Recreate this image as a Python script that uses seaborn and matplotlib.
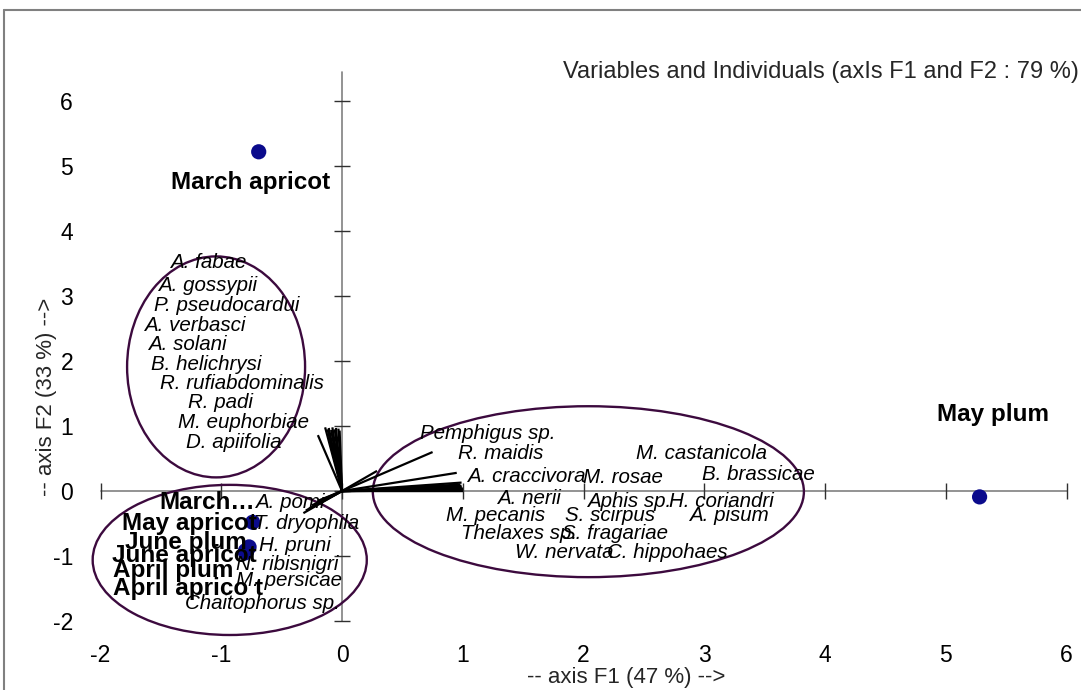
import matplotlib
matplotlib.use("Agg")
import matplotlib.pyplot as plt
from matplotlib.patches import Ellipse
from matplotlib.lines import Line2D
import pandas as pd
import seaborn as sns

sns.set_style("white")
plt.rcParams["font.family"] = ["Liberation Sans", "DejaVu Sans"]
plt.rcParams["axes.unicode_minus"] = False

# ---------------------------------------------------------------- data
# Observations (sampling month x host plant), factor scores on F1 / F2
obs_names = ["March apricot", "May plum", "March\u2026", "May apricot",
             "June plum", "June apricot", "April plum", "April aprico t"]
obs_f1 = [-0.69, 5.28, -0.79, -0.74, -0.77, -0.80, -0.79, -0.80]
obs_f2 = [5.22, -0.09, -0.92, -0.48, -0.86, -0.95, -0.93, -0.92]

# Aphid species (variables), loadings on F1 / F2
var_names = [
    # group 1
    "A. fabae", "A. gossypii", "P. pseudocardui", "A. verbasci", "A. solani",
    "B. helichrysi", "R. rufiabdominalis", "R. padi", "M. euphorbiae", "D. apiifolia",
    # group 2
    "Pemphigus sp.", "R. maidis", "M. castanicola", "A. craccivora", "M. rosae",
    "B. brassicae", "A. nerii", "Aphis sp.", "H. coriandri", "M. pecanis",
    "S. scirpus", "A. pisum", "Thelaxes sp.", "S. fragariae", "W. nervata",
    "C. hippohaes",
    # group 3
    "A. pomi", "T. dryophila", "H. pruni", "N. ribisnigri", "M. persicae",
    "Chaitophorus sp.",
]
var_f1 = [-0.05, -0.08, -0.11, -0.03, -0.14, -0.06, -0.09, -0.02, -0.12, -0.20,
          0.75, 0.29, 1.00, 0.95, 1.00, 0.99, 1.00, 0.99, 1.00, 0.99,
          1.00, 0.99, 1.00, 0.98, 0.99, 1.00,
          -0.32, -0.20, -0.25, -0.28, -0.15, -0.30]
var_f2 = [0.97, 0.98, 0.97, 0.96, 0.98, 0.95, 0.94, 0.93, 0.95, 0.86,
          0.60, 0.31, 0.04, 0.28, 0.02, 0.13, 0.00, 0.08, 0.03, 0.01,
          0.01, 0.05, 0.02, 0.10, 0.06, 0.00,
          -0.34, -0.15, -0.22, -0.28, -0.12, -0.30]

# Label anchor positions (data units)
obs_lab_x = [-0.754, 5.39, -0.72, -0.704, -0.787, -0.704, -0.903, -0.654]
obs_lab_y = [4.74, 1.17, -0.169, -0.492, -0.785, -0.985, -1.215, -1.492]
obs_lab_ha = ["center", "center", "right", "right", "right", "right", "right", "right"]

var_lab_x = [-1.110, -1.118, -0.952, -1.217, -1.284, -1.126, -0.828, -1.010, -0.820, -0.894,
             1.209, 1.317, 2.981, 1.524, 2.327, 3.445, 1.549, 2.377, 3.139, 1.275,
             2.219, 3.205, 1.466, 2.261, 1.839, 2.692,
             -0.431, -0.290, -0.389, -0.455, -0.439, -0.663]
var_lab_y = [3.52, 3.17, 2.86, 2.55, 2.25, 1.94, 1.66, 1.37, 1.06, 0.75,
             0.892, 0.585, 0.585, 0.231, 0.215, 0.262, -0.108, -0.154, -0.154, -0.369,
             -0.369, -0.369, -0.646, -0.646, -0.938, -0.938,
             -0.169, -0.492, -0.831, -1.138, -1.369, -1.723]

# Group envelopes: centre x, centre y, width, height
groups_cx = [-1.043, -0.93, 2.04]
groups_cy = [1.91, -1.06, -0.01]
groups_w = [1.474, 2.27, 3.57]
groups_h = [3.40, 2.31, 2.63]

axis_ticks = [-2, -1, 0, 1, 2, 3, 4, 5, 6]

title = "Variables and Individuals (axIs F1 and F2 : 79 %)"
xlabel = "-- axis F1 (47 %) -->"
ylabel = "-- axis F2 (33 %) -->"

obs = pd.DataFrame({"name": obs_names, "F1": obs_f1, "F2": obs_f2})

# ---------------------------------------------------------------- figure
W, H = 1081, 690
fig = plt.figure(figsize=(W / 100, H / 100), dpi=100)
L, R, T, B = 80, 1078, 40, 640
ax = fig.add_axes([L / W, 1 - B / H, (R - L) / W, (B - T) / H])
ax.set_xlim(-2.17, 6.095)
ax.set_ylim(-2.292, 6.94)
for s in ax.spines.values():
    s.set_visible(False)

ax.set_xticks(axis_ticks)
ax.set_yticks(axis_ticks)
ax.tick_params(axis="both", length=0, labelsize=16.5, colors="black")
ax.tick_params(axis="y", pad=5)
ax.tick_params(axis="x", pad=3)

# crossing axes through the origin with their tick marks
gray = "#808080"
ax.plot([min(axis_ticks), max(axis_ticks)], [0, 0], color=gray, lw=1.2, zorder=1)
ax.plot([0, 0], [min(axis_ticks), 6.45], color=gray, lw=1.2, zorder=1)
ax.plot(axis_ticks, [0] * len(axis_ticks), ls="none", marker="|", ms=12,
        mew=1.0, color="#303030", zorder=1)
ax.plot([0] * len(axis_ticks), axis_ticks, ls="none", marker="_", ms=11,
        mew=1.0, color="#303030", zorder=1)

# group envelopes
for cx, cy, w, h in zip(groups_cx, groups_cy, groups_w, groups_h):
    ax.add_patch(Ellipse((cx, cy), w, h, fill=False, ec="#3c0a3e", lw=1.7, zorder=2))

# variable vectors
for f1, f2 in zip(var_f1, var_f2):
    ax.plot([0, f1], [0, f2], color="black", lw=1.6, solid_capstyle="butt", zorder=3)

# observation points
sns.scatterplot(data=obs, x="F1", y="F2", color="#0b0b8c", s=120,
                edgecolor="none", ax=ax, zorder=4, legend=False)

# labels
for name, x, y in zip(var_names, var_lab_x, var_lab_y):
    ax.text(x, y, name, ha="center", va="center", fontsize=14.8,
            style="italic", color="black", zorder=5)
for name, x, y, ha in zip(obs_names, obs_lab_x, obs_lab_y, obs_lab_ha):
    ax.text(x, y, name, ha=ha, va="center", fontsize=17.5,
            fontweight="bold", color="black", zorder=6)

ax.set_xlabel(xlabel, fontsize=16)
ax.set_ylabel(ylabel, fontsize=16)
ax.xaxis.set_label_coords((626 - L) / (R - L), -(678 - B) / (B - T))
ax.xaxis.label.set_va("center")
ax.yaxis.set_label_coords((47 - L) / (R - L), (B - 397) / (B - T))
ax.yaxis.label.set_va("center")

fig.text(1079 / W, 1 - 72 / H, title, ha="right", va="center", fontsize=17)

# outer frame (top and left edges)
fig.add_artist(Line2D([4 / W, 4 / W], [0, 1 - 10 / H], color=gray, lw=1.5))
fig.add_artist(Line2D([4 / W, 1], [1 - 10 / H, 1 - 10 / H], color=gray, lw=1.5))

fig.savefig("out.png", dpi=100)
